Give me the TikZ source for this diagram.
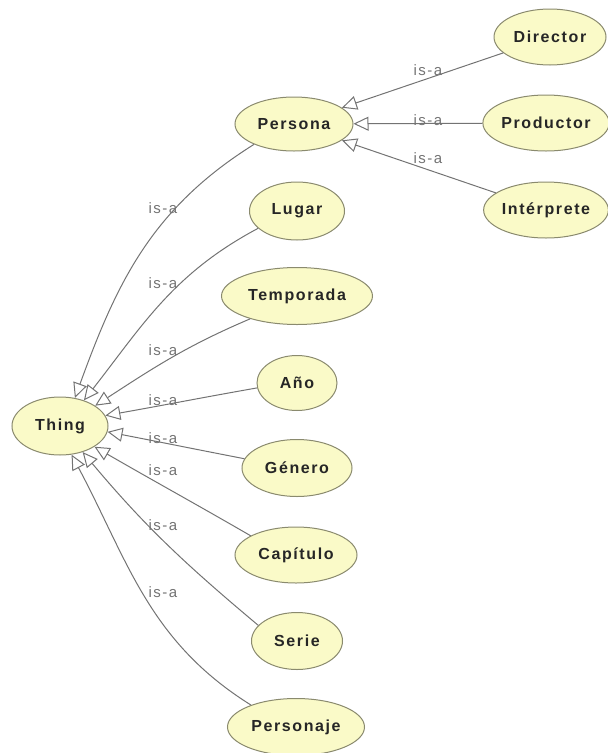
\documentclass[tikz,border=0pt]{standalone}
\usepackage{fontspec}
\setmainfont{Liberation Sans}
\newfontfamily\nodefont[LetterSpace=10]{Liberation Sans}
\newfontfamily\lblfont[LetterSpace=10]{Liberation Sans}
\usetikzlibrary{shapes.geometric,arrows.meta}
\definecolor{efill}{HTML}{FAFAC8}
\definecolor{edraw}{HTML}{8A8A6E}
\definecolor{lgray}{HTML}{737373}
\begin{document}
\begin{tikzpicture}[x=1pt,y=1pt,
 cls/.style={ellipse, draw=edraw, fill=efill, line width=1pt, inner sep=0pt,
   font=\nodefont\bfseries\fontsize{16}{18}\selectfont, text=black!85},
 isa/.style={-{Triangle[open,length=15pt,width=14pt]}, draw=lgray, line width=1pt},
 lbl/.style={text=lgray, font=\lblfont\fontsize{15}{17}\selectfont, inner sep=0pt}]
\useasboundingbox (0,0) rectangle (608,-753);
\node[cls, minimum width=96, minimum height=58] (thing) at (60,-426) {Thing};
\node[cls, minimum width=118, minimum height=54] (persona) at (294,-124) {Persona};
\node[cls, minimum width=112, minimum height=56] (director) at (550,-37) {Director};
\node[cls, minimum width=124, minimum height=56] (productor) at (546,-123) {Productor};
\node[cls, minimum width=122, minimum height=56] (interprete) at (546,-210) {Intérprete};
\node[cls, minimum width=95, minimum height=58] (lugar) at (297,-211) {Lugar};
\node[cls, minimum width=151, minimum height=57] (temporada) at (297,-296) {Temporada};
\node[cls, minimum width=80, minimum height=55] (anio) at (297,-383) {Año};
\node[cls, minimum width=110, minimum height=57] (genero) at (297,-468) {Género};
\node[cls, minimum width=122, minimum height=56] (capitulo) at (296,-555) {Capítulo};
\node[cls, minimum width=91, minimum height=57] (serie) at (297,-641) {Serie};
\node[cls, minimum width=137, minimum height=57] (personaje) at (296,-727) {Personaje};

\draw[isa] (director) -- (persona);
\draw[isa] (productor) -- (persona);
\draw[isa] (interprete) -- (persona);

\draw[isa] (persona.207) to[out=212,in=70] (thing.62);
\draw[isa] (lugar.204) to[out=208,in=52] (thing.47);
\draw[isa] (temporada.206) to[out=203,in=33] (thing.30);
\draw[isa] (anio.187) to[out=190,in=10] (thing.13);
\draw[isa] (genero.170) to[out=169,in=-11] (thing.-7);
\draw[isa] (capitulo.157) to[out=150,in=-30] (thing.-31);
\draw[isa] (serie.158) to[out=140,in=-50] (thing.-49);
\draw[isa] (personaje.154) to[out=148,in=-62] (thing.-68);

\node[lbl] (l1) at (428,-70) {is-a};
\node[lbl] (l2) at (428,-120) {is-a};
\node[lbl] (l3) at (428,-158) {is-a};
\node[lbl] (l4) at (163,-208) {is-a};
\node[lbl] (l5) at (163,-283) {is-a};
\node[lbl] (l6) at (163,-350) {is-a};
\node[lbl] (l7) at (163,-400) {is-a};
\node[lbl] (l8) at (163,-438) {is-a};
\node[lbl] (l9) at (163,-470) {is-a};
\node[lbl] (l10) at (163,-525) {is-a};
\node[lbl] (l11) at (163,-592) {is-a};
\end{tikzpicture}
\end{document}
